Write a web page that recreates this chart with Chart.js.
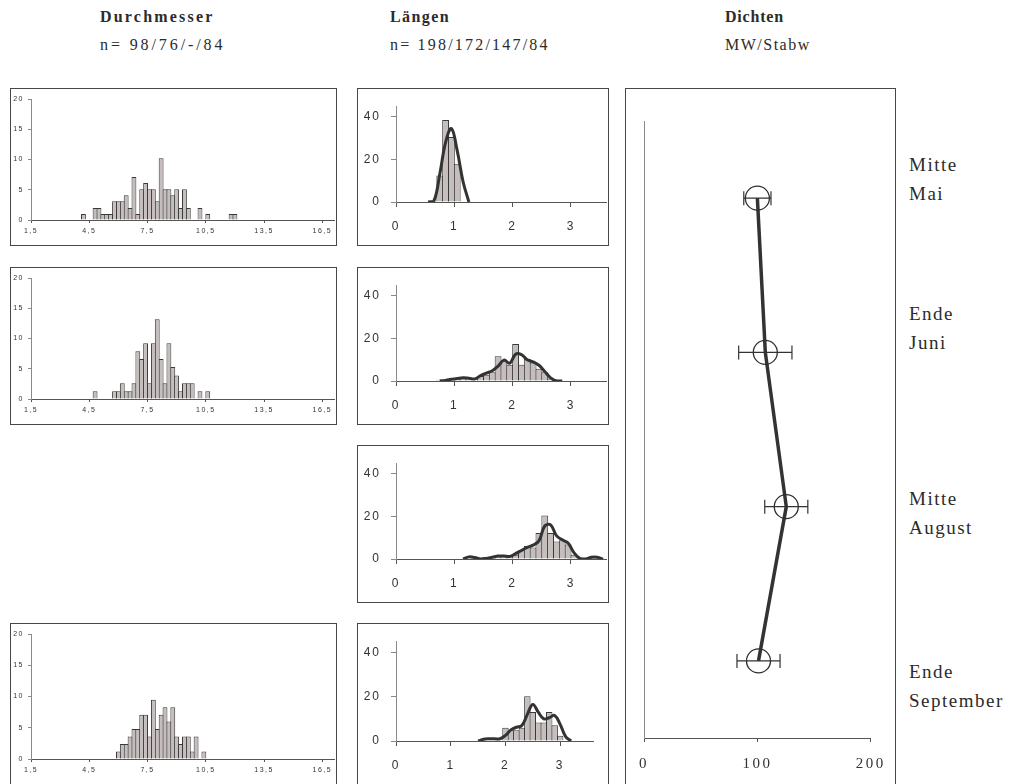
<!DOCTYPE html>
<html lang="de">
<head>
<meta charset="utf-8">
<title>Durchmesser, Längen, Dichten</title>
<script src="https://cdn.jsdelivr.net/npm/chart.js@4.4.1/dist/chart.umd.min.js"></script>
<style>
  html, body { margin: 0; padding: 0; background: #fff; }
  body { position: relative; width: 1012px; height: 784px; overflow: hidden;
         font-family: "Liberation Serif", "Times New Roman", serif; color: #2b2b2b; }
  .panel { position: absolute; box-sizing: border-box; border: 1px solid #474747; background: #fff; }
  .panel canvas { position: absolute; left: 0; top: 0; }
  .txt { position: absolute; white-space: nowrap; line-height: 18px; font-size: 16px; }
  .head { font-weight: bold; letter-spacing: 1.5px; }
  .sub { letter-spacing: 2px; }
  .period { position: absolute; white-space: nowrap; font-size: 19px; letter-spacing: 1.5px; line-height: 29px; }
</style>
</head>
<body>
<div class="txt head" style="left:100px; top:8px; letter-spacing:2.2px;">Durchmesser</div>
<div class="txt sub"  style="left:100px; top:36px; letter-spacing:2.9px;">n= 98/76/-/84</div>
<div class="txt head" style="left:390px; top:8px; letter-spacing:1.4px;">Längen</div>
<div class="txt sub"  style="left:390px; top:36px; letter-spacing:2.2px;">n= 198/172/147/84</div>
<div class="txt head" style="left:725px; top:8px; letter-spacing:0.8px;">Dichten</div>
<div class="txt sub"  style="left:725px; top:36px; letter-spacing:1.5px;">MW/Stabw</div>

<script>
// ---------- data ----------
const periodLabels = [['Mitte', 'Mai'], ['Ende', 'Juni'], ['Mitte', 'August'], ['Ende', 'September']];

// Durchmesser: class centres (width 0,2) and share in %
const diaTicks = [1.5, 4.5, 7.5, 10.5, 13.5, 16.5];
const diaTickLabels = ['1,5', '4,5', '7,5', '10,5', '13,5', '16,5'];
const diaPctTicks = [0, 5, 10, 15, 20];

const diaBinsMai = [4.2, 4.8, 5.0, 5.2, 5.4, 5.6, 5.8, 6.0, 6.2, 6.4, 6.6, 6.8, 7.0, 7.2, 7.4, 7.6, 7.8, 8.0, 8.2, 8.4, 8.6, 8.8, 9.0, 9.2, 9.4, 9.6, 10.2, 10.6, 11.8, 12.0];
const diaPctMai  = [1.0, 2.0, 2.0, 1.0, 1.0, 1.0, 3.1, 3.1, 3.1, 4.1, 2.0, 7.1, 1.0, 5.1, 6.1, 5.1, 5.1, 3.1, 10.2, 5.1, 5.1, 4.1, 5.1, 2.0, 5.1, 2.0, 2.0, 1.0, 1.0, 1.0];

const diaBinsJuni = [4.8, 5.8, 6.0, 6.2, 6.4, 6.6, 6.8, 7.0, 7.2, 7.4, 7.6, 7.8, 8.0, 8.2, 8.4, 8.6, 8.8, 9.0, 9.2, 9.4, 9.6, 9.8, 10.2, 10.6];
const diaPctJuni  = [1.3, 1.3, 1.3, 2.6, 1.3, 1.3, 2.6, 7.9, 6.6, 9.2, 2.6, 9.2, 13.2, 6.6, 2.6, 9.2, 5.3, 3.9, 1.3, 2.6, 2.6, 2.6, 1.3, 1.3];

const diaBinsSept = [6.0, 6.2, 6.4, 6.6, 6.8, 7.0, 7.2, 7.4, 7.6, 7.8, 8.0, 8.2, 8.4, 8.6, 8.8, 9.0, 9.2, 9.4, 9.6, 9.8, 10.0, 10.4];
const diaPctSept  = [1.2, 2.4, 2.4, 3.6, 4.8, 4.8, 7.1, 7.1, 3.6, 9.5, 4.8, 7.1, 8.3, 6.0, 8.3, 3.6, 2.4, 3.6, 3.6, 1.2, 3.6, 1.2];

// Längen: class centres (width 0,1), share in % and smoothed curve
const lenTicks = [0, 1, 2, 3];
const lenPctTicks = [0, 20, 40];

const lenBinsMai = [0.75, 0.85, 0.95, 1.05];
const lenPctMai  = [12.4, 38.5, 30.5, 18.0];
const lenCurveXMai = [0.55, 0.65, 0.75, 0.85, 0.95, 1.05, 1.15, 1.25];
const lenCurveMai  = [0, 0.5, 13, 28, 34.5, 24, 9.5, 0];

const lenBinsJuni = [0.75, 0.95, 1.05, 1.15, 1.25, 1.35, 1.45, 1.55, 1.65, 1.75, 1.85, 1.95, 2.05, 2.15, 2.25, 2.35, 2.45, 2.55, 2.65, 2.75];
const lenPctJuni  = [0.6, 0.6, 1.2, 1.7, 1.7, 1.2, 2.3, 2.9, 4.1, 11.6, 9.3, 7.6, 17.4, 7.6, 10.5, 8.7, 5.8, 4.1, 1.2, 0.6];
const lenCurveXJuni = [0.75, 0.85, 0.95, 1.05, 1.15, 1.25, 1.35, 1.45, 1.55, 1.65, 1.75, 1.85, 1.95, 2.05, 2.15, 2.25, 2.35, 2.45, 2.55, 2.65, 2.75, 2.85];
const lenCurveJuni  = [0, 0.3, 0.8, 1.2, 1.5, 1.3, 1.0, 2.5, 3.7, 4.8, 7.0, 9.8, 8.4, 12.6, 12.4, 10.0, 9.0, 7.4, 4.5, 1.5, 0, 0];

const lenBinsAug = [1.25, 1.35, 1.65, 1.75, 1.85, 1.95, 2.05, 2.15, 2.25, 2.35, 2.45, 2.55, 2.65, 2.75, 2.85, 2.95, 3.05, 3.35, 3.45];
const lenPctAug  = [0.7, 0.7, 0.7, 1.4, 1.4, 1.4, 2.0, 4.1, 6.1, 5.4, 12.2, 20.4, 12.2, 8.2, 8.8, 6.8, 2.0, 0.7, 0.7];
const lenCurveXAug = [1.15, 1.25, 1.35, 1.45, 1.55, 1.65, 1.75, 1.85, 1.95, 2.05, 2.15, 2.25, 2.35, 2.45, 2.55, 2.65, 2.75, 2.85, 2.95, 3.05, 3.15, 3.25, 3.35, 3.45, 3.55];
const lenCurveAug  = [0, 1.0, 0.7, 0, 0.3, 0.8, 1.4, 1.4, 1.2, 2.5, 4.0, 5.5, 6.5, 8.5, 15.5, 16.0, 11.0, 9.0, 7.5, 3.0, 0.3, 0, 0.8, 0.8, 0];

const lenBinsSept = [2.0, 2.1, 2.2, 2.3, 2.4, 2.5, 2.6, 2.7, 2.8, 2.9, 3.0];
const lenPctSept  = [6.0, 4.8, 4.8, 6.0, 20.2, 13.1, 8.3, 8.3, 13.1, 7.1, 2.4];
const lenCurveXSept = [1.5, 1.6, 1.7, 1.8, 1.9, 2.0, 2.1, 2.2, 2.3, 2.4, 2.5, 2.6, 2.7, 2.8, 2.9, 3.0, 3.1, 3.2];
const lenCurveSept  = [0, 0.8, 1.0, 1.0, 1.0, 2.5, 5.0, 6.2, 7.0, 12.0, 16.5, 13.0, 10.0, 10.5, 11.5, 7.5, 2.0, 0];

// Dichten: mean and standard deviation per sampling date
const densityTicks = [0, 100, 200];
const densityMean = [100, 107, 125.5, 101];
const densitySd   = [12, 23.5, 19, 19];

// ---------- styling ----------
const SANS = '"Liberation Sans", Arial, sans-serif';
const SERIF = '"Liberation Serif", "Times New Roman", serif';
const TEXT = '#333333';
const AXIS_LIGHT = '#8a8a8a';
const AXIS_DARK = '#555555';
const BAR_FILL = '#c6bdbd';
const BAR_EDGE = '#3a3a3a';
const CURVE = '#333333';

// ---------- helpers ----------
function panel(left, top, width, height) {
  const div = document.createElement('div');
  div.className = 'panel';
  Object.assign(div.style, { left: left + 'px', top: top + 'px', width: width + 'px', height: height + 'px' });
  const cv = document.createElement('canvas');
  cv.width = width - 2; cv.height = height - 2;
  cv.style.width = (width - 2) + 'px'; cv.style.height = (height - 2) + 'px';
  div.appendChild(cv);
  document.body.appendChild(div);
  return cv;
}
const fixTicks = values => scale => { scale.ticks = values.map(v => ({ value: v })); };
const spacing = px => ({
  id: 'letterSpacing',
  beforeDraw(c) { c.ctx.letterSpacing = px; },
  afterDraw(c) { c.ctx.letterSpacing = '0px'; }
});
const baseOptions = pad => ({
  responsive: false, animation: false, devicePixelRatio: 1,
  layout: { padding: pad },
  plugins: { legend: { display: false }, tooltip: { enabled: false } }
});
const toPoints = (xs, ys) => xs.map((x, i) => ({ x, y: ys[i] }));

function diameterChart(canvas, bins, pct) {
  return new Chart(canvas, {
    type: 'bar',
    data: { datasets: [{
      data: toPoints(bins, pct),
      backgroundColor: BAR_FILL, borderColor: BAR_EDGE, borderWidth: 1,
      categoryPercentage: 1, barPercentage: 1.25
    }] },
    options: Object.assign(baseOptions({ left: 0, right: 2, top: 10, bottom: 0 }), {
      scales: {
        x: { type: 'linear', min: 1.5, max: 17.1, offset: false,
          afterBuildTicks: fixTicks(diaTicks), afterFit: s => { s.height = 25; },
          grid: { drawOnChartArea: false, tickLength: 3, color: AXIS_DARK, offset: false },
          border: { color: AXIS_DARK },
          ticks: { padding: 4, color: TEXT, autoSkip: false, maxRotation: 0,
                   font: { family: SANS, size: 7 }, callback: (v, i) => diaTickLabels[i] } },
        y: { type: 'linear', min: 0, max: 20,
          afterBuildTicks: fixTicks(diaPctTicks), afterFit: s => { s.width = 20; },
          grid: { drawOnChartArea: false, tickLength: 3, color: AXIS_LIGHT },
          border: { color: AXIS_LIGHT },
          ticks: { padding: 4, color: TEXT, font: { family: SANS, size: 7 } } }
      }
    }),
    plugins: [spacing('1.5px')]
  });
}

function lengthChart(canvas, bins, pct, curveX, curveY, rightPad) {
  return new Chart(canvas, {
    type: 'bar',
    data: { datasets: [
      { type: 'line', data: toPoints(curveX, curveY), borderColor: CURVE, borderWidth: 3,
        pointRadius: 0, tension: 0.4, fill: false, order: 0 },
      { type: 'bar', data: toPoints(bins, pct), backgroundColor: BAR_FILL, borderColor: BAR_EDGE,
        borderWidth: 1, categoryPercentage: 1, barPercentage: 1.17, order: 1 }
    ] },
    options: Object.assign(baseOptions({ left: 0, right: rightPad, top: 16, bottom: 0 }), {
      scales: {
        x: { type: 'linear', min: 0, max: 3.6, offset: false,
          afterBuildTicks: fixTicks(lenTicks), afterFit: s => { s.height = 43; },
          grid: { drawOnChartArea: false, tickLength: 5, color: AXIS_DARK, offset: false },
          border: { color: AXIS_DARK },
          ticks: { padding: 12, color: TEXT, autoSkip: false, maxRotation: 0,
                   font: { family: SANS, size: 12 } } },
        y: { type: 'linear', min: 0, max: 45,
          afterBuildTicks: fixTicks(lenPctTicks), afterFit: s => { s.width = 38; },
          grid: { drawOnChartArea: false, tickLength: 5, color: AXIS_LIGHT },
          border: { color: AXIS_LIGHT },
          ticks: { padding: 10, color: TEXT, font: { family: SANS, size: 12 } } }
      }
    }),
    plugins: [spacing('2px')]
  });
}

const errorBars = {
  id: 'errorBars',
  afterDatasetsDraw(chart) {
    const { ctx, scales: { x, y } } = chart;
    ctx.save();
    ctx.strokeStyle = CURVE;
    ctx.lineWidth = 1.2;
    densityMean.forEach((m, i) => {
      const py = y.getPixelForValue(i);
      const x0 = x.getPixelForValue(m - densitySd[i]);
      const x1 = x.getPixelForValue(m + densitySd[i]);
      ctx.beginPath();
      ctx.moveTo(x0, py); ctx.lineTo(x1, py);
      ctx.moveTo(x0, py - 7); ctx.lineTo(x0, py + 7);
      ctx.moveTo(x1, py - 7); ctx.lineTo(x1, py + 7);
      ctx.stroke();
    });
    ctx.restore();
  }
};

function densityChart(canvas) {
  return new Chart(canvas, {
    type: 'line',
    data: {
      labels: periodLabels.map(p => p.join(' ')),
      datasets: [{ data: densityMean, borderColor: CURVE, borderWidth: 3.5, tension: 0, fill: false,
        pointRadius: 12, pointBorderWidth: 1.3, pointBorderColor: '#2e2e2e',
        pointBackgroundColor: 'rgba(0,0,0,0)', clip: false }]
    },
    options: Object.assign(baseOptions({ left: 0, right: 19, top: 32, bottom: 0 }), {
      indexAxis: 'y',
      scales: {
        x: { type: 'linear', min: 0, max: 200,
          afterBuildTicks: fixTicks(densityTicks), afterFit: s => { s.height = 49; },
          grid: { drawOnChartArea: false, tickLength: 4, color: AXIS_DARK },
          border: { color: AXIS_DARK },
          ticks: { padding: 13, color: TEXT, font: { family: SERIF, size: 15 } } },
        y: { type: 'category', offset: true, afterFit: s => { s.width = 18; },
          grid: { display: false }, border: { display: true, color: AXIS_LIGHT },
          ticks: { display: false } }
      }
    }),
    plugins: [spacing('2.5px'), errorBars]
  });
}

// ---------- layout ----------
const rowTop = [88, 267, 445, 623];
const PANEL_H = 158;

diameterChart(panel(10, rowTop[0], 327, PANEL_H), diaBinsMai, diaPctMai);
diameterChart(panel(10, rowTop[1], 327, PANEL_H), diaBinsJuni, diaPctJuni);
diameterChart(panel(10, rowTop[3], 327, PANEL_H + 4), diaBinsSept, diaPctSept);

lengthChart(panel(357, rowTop[0], 252, PANEL_H), lenBinsMai, lenPctMai, lenCurveXMai, lenCurveMai, 2);
lengthChart(panel(357, rowTop[1], 252, PANEL_H), lenBinsJuni, lenPctJuni, lenCurveXJuni, lenCurveJuni, 2);
lengthChart(panel(357, rowTop[2], 252, PANEL_H), lenBinsAug, lenPctAug, lenCurveXAug, lenCurveAug, 2);
lengthChart(panel(357, rowTop[3], 252, PANEL_H + 4), lenBinsSept, lenPctSept, lenCurveXSept, lenCurveSept, 15);

densityChart(panel(625, 88, 271, 700));

// date labels beside the density panel
const periodTop = [150, 299, 484, 657];
periodLabels.forEach((lines, i) => {
  const d = document.createElement('div');
  d.className = 'period';
  d.style.left = '909px';
  d.style.top = periodTop[i] + 'px';
  d.innerHTML = lines.join('<br>');
  document.body.appendChild(d);
});
</script>
</body>
</html>
